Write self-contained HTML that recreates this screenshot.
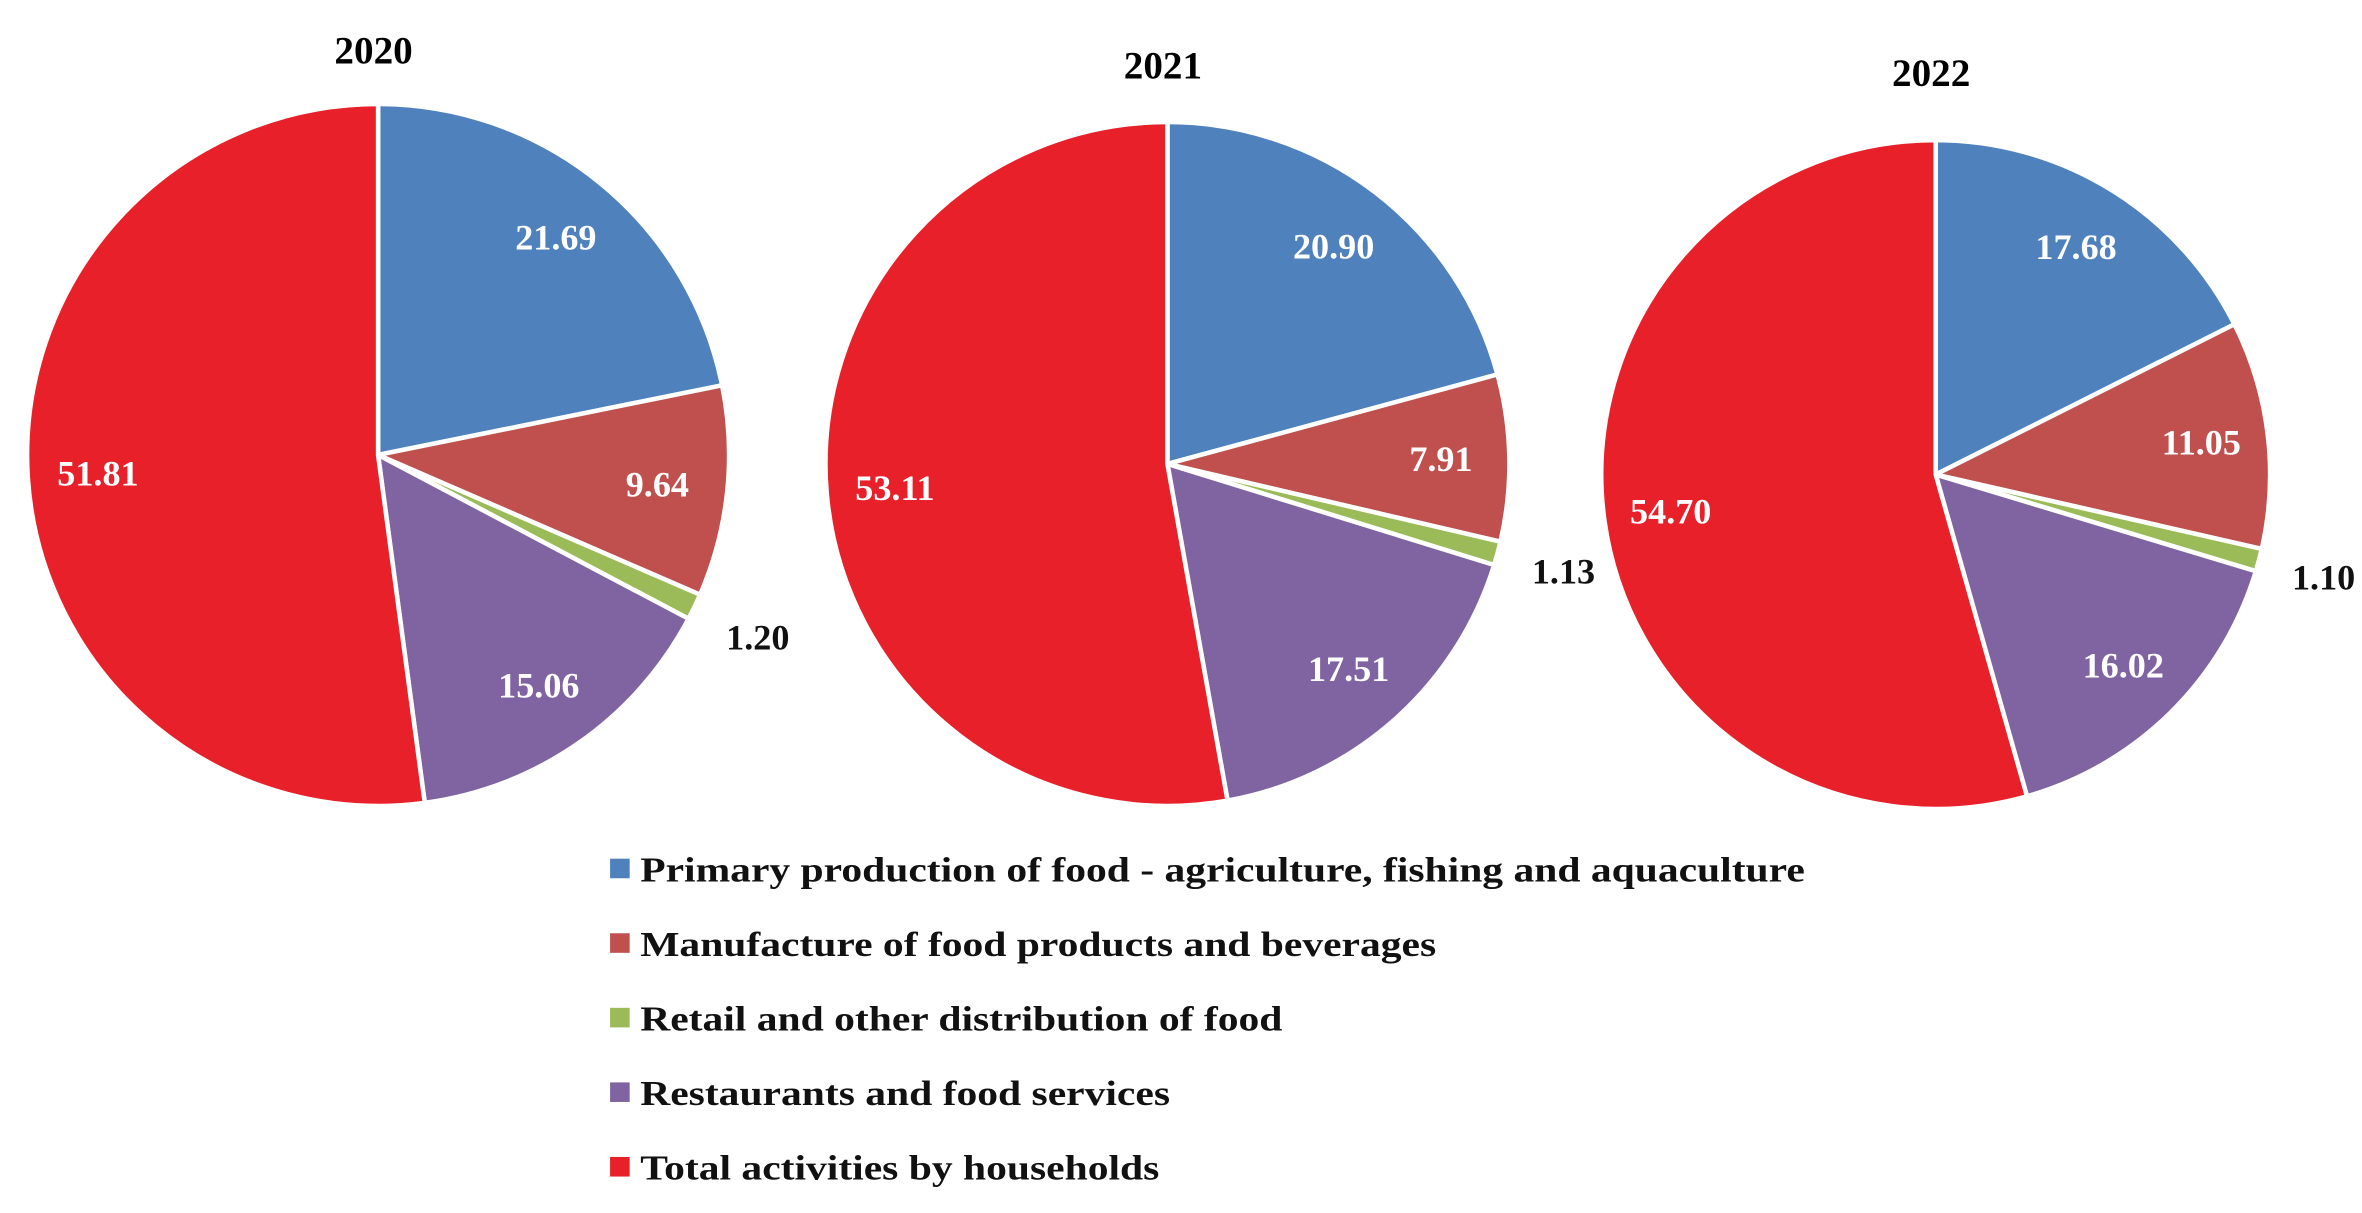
<!DOCTYPE html>
<html><head><meta charset="utf-8"><style>
html,body{margin:0;padding:0;background:#fff;}
svg{display:block;}
text{font-family:"Liberation Serif",serif;font-weight:bold;}
</style></head><body>
<svg id="chart" width="2362" height="1213" viewBox="0 0 1568 805.2" preserveAspectRatio="none" xmlns="http://www.w3.org/2000/svg">
<g id="pies"></g>
<g id="legend"></g>
</svg>
<script>
const years = ["2020","2021","2022"];
const categories = ["Primary production of food - agriculture, fishing and aquaculture","Manufacture of food products and beverages","Retail and other distribution of food","Restaurants and food services","Total activities by households"];
const values2020 = [21.69, 9.64, 1.20, 15.06, 51.81];
const values2021 = [20.90, 7.91, 1.13, 17.51, 53.11];
const values2022 = [17.68, 11.05, 1.10, 16.02, 54.70];
const labels2020 = ["21.69","9.64","1.20","15.06","51.81"];
const labels2021 = ["20.90","7.91","1.13","17.51","53.11"];
const labels2022 = ["17.68","11.05","1.10","16.02","54.70"];

const colors = ["#4f81bd","#c0504d","#9bbb59","#8064a2","#e8202a"];
const layout = [{cx:251,cy:302,r:233,ty:42},{cx:775,cy:308,r:227,ty:52},{cx:1285,cy:315,r:222,ty:57}];
const allVals = [values2020, values2021, values2022];
const allLabels = [labels2020, labels2021, labels2022];
const NS = "http://www.w3.org/2000/svg";
const pies = document.getElementById('pies');
function pt(cx,cy,r,a){return [cx+r*Math.sin(a), cy-r*Math.cos(a)];}
years.forEach((y,i)=>{
  const L = layout[i], vals = allVals[i], labs = allLabels[i];
  const total = vals.reduce((s,v)=>s+v,0);
  const g = document.createElementNS(NS,'g');
  
  
  pies.appendChild(g);
  const t = document.createElementNS(NS,'text');
  t.setAttribute('x',L.cx-3); t.setAttribute('y',L.ty); t.setAttribute('text-anchor','middle');
  t.setAttribute('font-size','26'); t.textContent=y;
  
  
  g.appendChild(t);
  let acc = 0;
  vals.forEach((v,k)=>{
    const a0 = acc/total*2*Math.PI; acc+=v; const a1 = acc/total*2*Math.PI;
    const p0=pt(L.cx,L.cy,L.r,a0), p1=pt(L.cx,L.cy,L.r,a1);
    const large = (a1-a0)>Math.PI?1:0;
    const p = document.createElementNS(NS,'path');
    p.setAttribute('d',`M${L.cx},${L.cy} L${p0[0]},${p0[1]} A${L.r},${L.r} 0 ${large} 1 ${p1[0]},${p1[1]} Z`);
    p.setAttribute('fill',colors[k]); p.setAttribute('stroke','#fff'); p.setAttribute('stroke-width','3');
    p.setAttribute('stroke-linejoin','round');
    
    
    g.appendChild(p);
  });
  acc = 0;
  vals.forEach((v,k)=>{
    const a0 = acc/total*2*Math.PI; acc+=v; const a1 = acc/total*2*Math.PI;
    const am=(a0+a1)/2;
    const outside = v<3;
    const f = outside?1.2:0.8;
    const q=pt(L.cx,L.cy,L.r*f,am);
    const lt = document.createElementNS(NS,'text');
    lt.setAttribute('x',q[0]); lt.setAttribute('y',q[1]+8); lt.setAttribute('text-anchor','middle');
    lt.setAttribute('font-size','24'); lt.setAttribute('fill',outside?'#111':'#fff');
    lt.textContent=labs[k];
    
    
    g.appendChild(lt);
  });
});
const leg = document.getElementById('legend');
categories.forEach((c,k)=>{
  const yy = 577 + k*49.5;
  const r = document.createElementNS(NS,'rect');
  r.setAttribute('x',405); r.setAttribute('y',yy-7); r.setAttribute('width',13); r.setAttribute('height',13);
  r.setAttribute('fill',colors[k]);
  
  
  leg.appendChild(r);
  const t = document.createElementNS(NS,'text');
  t.setAttribute('x',425); t.setAttribute('y',yy+8); t.setAttribute('font-size','23'); t.setAttribute('fill','#111');
  t.textContent=c;
  
  
  leg.appendChild(t);
  const w = t.getComputedTextLength();
  t.setAttribute('textLength', (w*1.2).toFixed(1));
  t.setAttribute('lengthAdjust','spacingAndGlyphs');
});
</script>
</body></html>
